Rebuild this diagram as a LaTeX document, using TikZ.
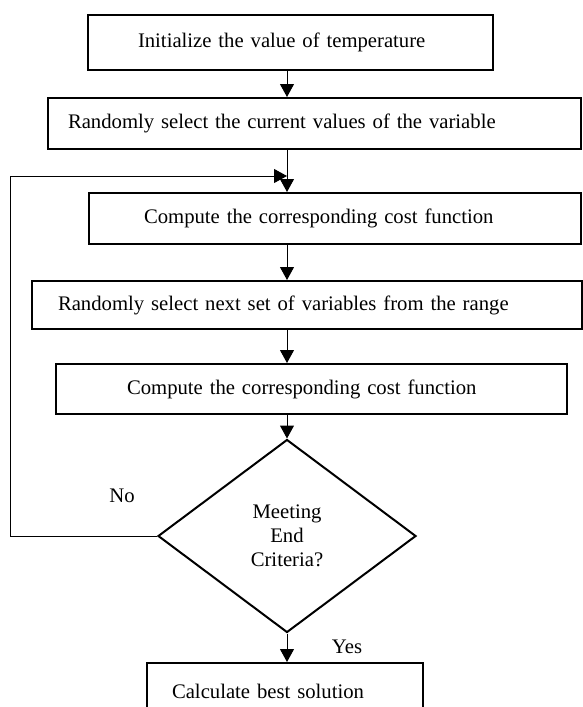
\documentclass[tikz,border=0pt]{standalone}
\usepackage{fontspec}
\setmainfont{Liberation Serif}
\usetikzlibrary{shapes.geometric,arrows.meta,positioning}

\tikzset{
  stepbox/.style={draw, line width=2pt, anchor=north west, align=left,
    font=\fontsize{20.7}{24}\selectfont},
  decide/.style={draw, diamond, line width=2pt, minimum width=258pt,
    minimum height=193pt, inner sep=0pt, align=center,
    font=\fontsize{20.7}{24}\selectfont},
  arr/.style={-{Triangle[length=13pt,width=14pt]}, line width=1pt},
  lbl/.style={font=\fontsize{20.7}{24}\selectfont}
}

\begin{document}
\begin{tikzpicture}[x=1pt,y=-1pt]
\useasboundingbox (0,0) rectangle (582,707);

% process steps
\node[stepbox, text width=305pt, inner xsep=50pt, minimum height=55pt] (init) at (87,14) {Initialize the value of temperature};
\node[stepbox, text width=493pt, inner xsep=20pt, minimum height=51pt] (rand) at (47,97) {Randomly select the current values of the variable};
\node[stepbox, text width=382pt, inner xsep=55pt, minimum height=51pt] (cost) at (88,192) {Compute the corresponding cost function};
\node[stepbox, text width=498pt, inner xsep=26pt, minimum height=48pt] (next) at (31,280) {Randomly select next set of variables from the range};
\node[stepbox, text width=369pt, inner xsep=71pt, minimum height=50pt] (newcost) at (55,363) {Compute the corresponding cost function};
\node[decide] (crit) at (287,536) {Meeting\\End\\Criteria?};
\node[stepbox, text width=226pt, inner xsep=25pt, minimum height=56pt] (best) at (146,662) {Calculate best solution};

\coordinate (back) at (10,176);
\node[lbl] (no) at (122,496) {No};
\node[lbl] (yes) at (347,647) {Yes};

% connectors
\draw[arr] (init.south -| crit) -- (rand.north -| crit);
\draw[arr] (rand.south -| crit) -- (cost.north -| crit);
\draw[arr] (cost.south -| crit) -- (next.north -| crit);
\draw[arr] (next.south -| crit) -- (newcost.north -| crit);
\draw[arr] (newcost.south -| crit) -- (crit.north);
\draw[arr] (crit.south) -- (best.north -| crit);
\draw[arr] (crit.west) -| (back) -- (back -| crit);
\end{tikzpicture}
\end{document}
